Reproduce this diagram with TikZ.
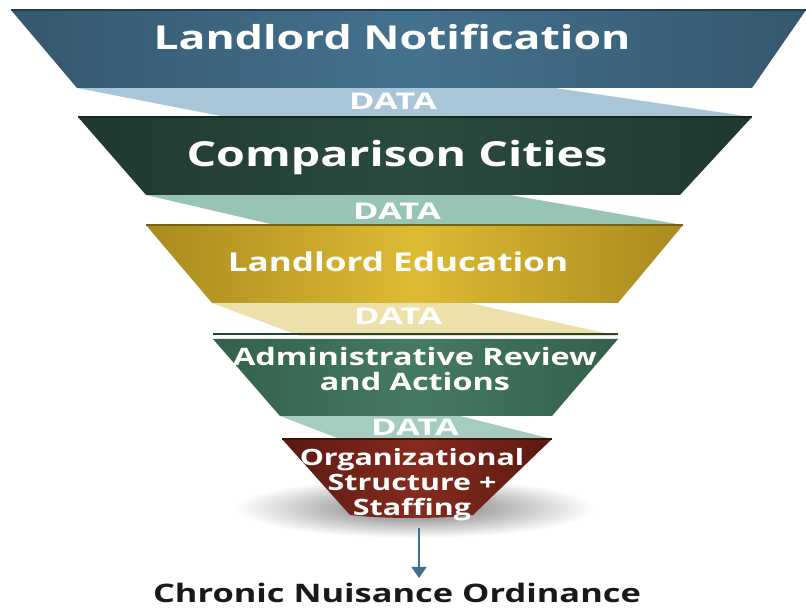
\documentclass[tikz,border=0pt]{standalone}
\usepackage{fontspec}
\newfontfamily\funnelfont{Open Sans}[FakeStretch=1.35]
\newfontfamily\datafont{Open Sans}[FakeStretch=1.5]
\usetikzlibrary{arrows.meta}

\definecolor{notifyDark}{HTML}{35576E}
\definecolor{notifyMid}{HTML}{43728F}
\definecolor{notifyData}{HTML}{A9C6D9}
\definecolor{citiesDark}{HTML}{1F3830}
\definecolor{citiesMid}{HTML}{2B4B3F}
\definecolor{citiesData}{HTML}{98C4B4}
\definecolor{eduDark}{HTML}{A98A1E}
\definecolor{eduMid}{HTML}{DDBB33}
\definecolor{eduData}{HTML}{EEE0AA}
\definecolor{adminDark}{HTML}{32604B}
\definecolor{adminMid}{HTML}{457A62}
\definecolor{adminData}{HTML}{A5CDBD}
\definecolor{staffDark}{HTML}{5A1911}
\definecolor{staffMid}{HTML}{852B1E}
\definecolor{arrowBlue}{HTML}{41708F}

\tikzset{
  bandtext/.style={text=white, align=center, inner sep=0pt, font=\funnelfont\bfseries\fontsize{#1}{#1}\selectfont},
  datatext/.style={text=white, inner sep=0pt, font=\datafont\bfseries\fontsize{23}{23}\selectfont},
  rim/.style={draw=#1, line width=1.2pt}
}

\begin{document}
\begin{tikzpicture}[x=1pt, y=-1pt]
  \useasboundingbox (0,0) rectangle (806,609);

  % data ribbons behind the bands
  \fill[notifyData] (77,88) -- (555,88) -- (752,117) -- (226,117) -- cycle;
  \fill[citiesData] (146,195) -- (510,195) -- (683,225) -- (275,225) -- cycle;
  \fill[eduData] (212,303) -- (470,303) -- (618,336) -- (300,336) -- cycle;
  \fill[adminData] (280,416) -- (460,416) -- (552,439) -- (340,439) -- cycle;

  % shadow under the last band
  \shade[inner color=black!55, outer color=white] (415,508) ellipse (180 and 30);

  % funnel bands
  \shade[left color=notifyDark, right color=notifyDark, middle color=notifyMid]
    (11,10) -- (806,10) -- (752,88) -- (77,88) -- cycle;
  \draw[rim=notifyDark!70!black] (11,10) -- (806,10);
  \shade[left color=citiesDark, right color=citiesDark, middle color=citiesMid]
    (78,117) -- (752,117) -- (680,195) -- (146,195) -- cycle;
  \draw[rim=citiesDark!70!black] (78,117) -- (752,117);
  \shade[left color=eduDark, right color=eduDark, middle color=eduMid]
    (146,225) -- (683,225) -- (618,303) -- (212,303) -- cycle;
  \draw[rim=eduDark!70!black] (146,225) -- (683,225);
  \shade[left color=adminDark, right color=adminDark, middle color=adminMid]
    (213,339) -- (618,339) -- (552,416) -- (280,416) -- cycle;
  \draw[rim=adminDark!70!black] (213,334) -- (618,334);
  \shade[left color=staffDark, right color=staffDark, middle color=staffMid]
    (282,439) -- (552,439) -- (473,515) .. controls (440,519) and (385,519) .. (350,515) -- cycle;
  \draw[rim=staffDark!70!black] (282,439) -- (552,439);

  % labels
  \node[bandtext=33] (notify) at (392,37) {Landlord Notification};
  \node[datatext] (data1) at (393,101) {DATA};
  \node[bandtext=34.5] (cities) at (397,158) {Comparison Cities};
  \node[datatext] (data2) at (397,211) {DATA};
  \node[bandtext=26] (edu) at (398,262) {Landlord Education};
  \node[datatext] (data3) at (398,316) {DATA};
  \node[bandtext=24] (admin) at (415,369) {Administrative Review\\[1.5pt] and Actions};
  \node[datatext] (data4) at (415,427) {DATA};
  \node[bandtext=22.5] (staff) at (412,485) {Organizational\\[2.5pt] Structure +\\[2.5pt] Staffing};

  \coordinate (funnelout) at (419,528);
  \node[inner sep=0pt, font=\funnelfont\bfseries\fontsize{25.5}{25.5}\selectfont, text=black!90] (ordinance) at (397,593) {Chronic Nuisance Ordinance};
  \draw[arrowBlue, line width=1.2pt, -{Triangle[length=11pt, width=15pt]}] (funnelout) -- ([yshift=5pt]ordinance.north -| funnelout);
\end{tikzpicture}
\end{document}
